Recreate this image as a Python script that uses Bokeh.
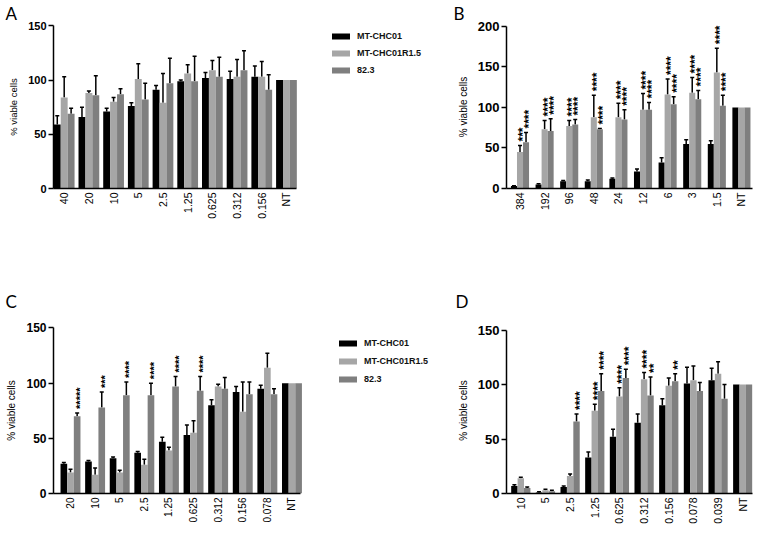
from math import pi
import numpy as np
from bokeh.plotting import figure
from bokeh.models import (Range1d, FixedTicker, ColumnDataSource, Whisker, TeeHead,
                          Title, Legend, LegendItem)
from bokeh.transform import dodge
from bokeh.layouts import column, row
from bokeh.embed import file_html
from bokeh.resources import INLINE
from bokeh.core.properties import value

SERIES = ["MT-CHC01", "MT-CHC01R1.5", "82.3"]
COLORS = ["#000000", "#a6a6a6", "#7f7f7f"]
FONT = "Liberation Sans"

# ---------------- Panel A ----------------
a_labels = ["40", "20", "10", "5", "2.5", "1.25", "0.625", "0.312", "0.156", "NT"]
a_chc01 = [59, 66, 71, 76, 91, 99, 102, 101, 103, 100]
a_chc01_err = [8, 9, 3, 3, 4, 1, 5, 7, 10, 0]
a_r15 = [84, 88, 80, 101, 79, 106, 109, 103, 103, 100]
a_r15_err = [19, 2, 4, 14, 27, 8, 9, 16, 14, 0]
a_823 = [69, 86, 87, 82, 97, 99, 103, 109, 91, 100]
a_823_err = [5, 18, 5, 15, 23, 23, 18, 18, 14, 0]
a_r15_sig = [""] * 10
a_823_sig = [""] * 10

# ---------------- Panel B ----------------
b_labels = ["384", "192", "96", "48", "24", "12", "6", "3", "1.5", "NT"]
b_chc01 = [3, 5, 9, 9, 12, 21, 32, 55, 55, 100]
b_chc01_err = [0.5, 1, 1, 1.5, 1, 3, 6, 5, 4, 0]
b_r15 = [45, 73, 77, 88, 88, 97, 116, 118, 143, 100]
b_r15_err = [8, 11, 7, 27, 17, 20, 19, 19, 30, 0]
b_823 = [57, 71, 79, 73, 85, 97, 104, 110, 102, 100]
b_823_err = [12, 15, 6, 1, 12, 9, 9, 11, 13, 0]
b_r15_sig = ["***", "****", "****", "****", "****", "****", "****", "****", "****", ""]
b_823_sig = ["****", "****", "****", "****", "****", "****", "****", "****", "****", ""]

# ---------------- Panel C ----------------
c_labels = ["20", "10", "5", "2.5", "1.25", "0.625", "0.312", "0.156", "0.078", "NT"]
c_chc01 = [27, 29, 32, 37, 47, 53, 80, 92, 95, 100]
c_chc01_err = [1, 1, 1, 1, 4, 9, 5, 5, 3, 0]
c_r15 = [19, 17, 19, 26, 39, 55, 97, 74, 114, 100]
c_r15_err = [3, 6, 2, 5, 3, 11, 2, 27, 13, 0]
c_823 = [70, 78, 89, 89, 97, 93, 95, 90, 90, 100]
c_823_err = [3, 14, 12, 11, 9, 13, 10, 11, 5, 0]
c_r15_sig = [""] * 10
c_823_sig = ["*****", "***", "****", "****", "****", "****", "", "", "", ""]

# ---------------- Panel D ----------------
d_labels = ["10", "5", "2.5", "1.25", "0.625", "0.312", "0.156", "0.078", "0.039", "NT"]
d_chc01 = [7, 1, 6, 33, 52, 65, 81, 101, 104, 100]
d_chc01_err = [1, 0.5, 1, 5, 7, 8, 6, 15, 11, 0]
d_r15 = [14, 3, 16, 76, 89, 105, 99, 104, 110, 100]
d_r15_err = [1, 1, 2, 6, 8, 6, 7, 13, 11, 0]
d_823 = [5, 2, 66, 94, 106, 90, 103, 94, 87, 100]
d_823_err = [1, 1, 7, 16, 8, 17, 7, 8, 13, 0]
d_r15_sig = ["", "", "", "****", "****", "****", "", "", "", ""]
d_823_sig = ["", "", "****", "****", "****", "**", "**", "", "", ""]


def make_panel(g, labels, series, sigs, ymax, letter, legend=None):
    W, H, fl, fr, ft, fb = g["W"], g["H"], g["fl"], g["fr"], g["ft"], g["fb"]
    bw = g["bw"]
    ttl = Title(text=letter, align="left", offset=g["loff"], standoff=g["lstand"],
                vertical_align=g["lva"], text_font="Lato", text_font_size="17px",
                text_font_style="normal", text_color="black")
    p = figure(width=W, height=H, x_range=Range1d(g["x0"], g["x1"]),
               y_range=Range1d(0, g["yend"]), output_backend="svg",
               toolbar_location=None, title=ttl,
               min_border_left=fl, min_border_right=W - fr,
               min_border_top=ft, min_border_bottom=H - fb)
    p.outline_line_color = None
    p.grid.grid_line_color = None
    p.background_fill_color = "white"
    p.border_fill_color = "white"

    n = len(labels)
    idx = list(range(n))
    offsets = [-bw, 0.0, bw]
    sfs = g["sfs"]
    rends = []
    for k, ((vals, errs), col) in enumerate(zip(series, COLORS)):
        off = offsets[k]
        src = ColumnDataSource(dict(x=idx, top=vals))
        p.vbar(x=dodge("x", off), top="top", bottom=0, width=bw, source=src,
               fill_color=col, line_color=None)
        keep = [i for i in idx if errs[i] > 0]
        wsrc = ColumnDataSource(dict(base=keep,
                                     lower=[vals[i] for i in keep],
                                     upper=[vals[i] + errs[i] for i in keep]))
        p.add_layout(Whisker(base=dodge("base", off), lower="lower", upper="upper",
                             source=wsrc, line_color="black", line_width=1.5,
                             lower_head=None,
                             upper_head=TeeHead(size=4, line_color="black", line_width=1.5)))
        if k > 0:
            sg = sigs[k - 1]
            ks = [i for i in idx if sg[i]]
            if ks:
                ssrc = ColumnDataSource(dict(x=ks, y=[vals[i] + errs[i] for i in ks],
                                             t=[sg[i] for i in ks]))
                p.text(x=dodge("x", off), y="y", text="t", source=ssrc, angle=pi / 2,
                       text_align="left", text_baseline="middle",
                       text_font=value(FONT), text_font_style="bold",
                       text_font_size=f"{sfs}px", y_offset=-4, x_offset=round(0.25 * sfs),
                       text_color="black")
        # legend swatch renderer (no visible mark)
        rends.append(p.line(x=np.array([np.nan]), y=np.array([np.nan]), line_width=6,
                            line_cap="round", line_color=col))

    p.yaxis.ticker = FixedTicker(ticks=list(range(0, ymax + 1, 50)))
    p.yaxis.bounds = (0, ymax)
    p.xaxis.bounds = (g["x0"], g["xb"])
    p.xaxis.ticker = FixedTicker(ticks=idx)
    p.xaxis.major_label_overrides = {i: l for i, l in enumerate(labels)}
    p.xaxis.major_label_orientation = pi / 2
    p.xaxis.major_tick_line_color = None
    p.xaxis.major_tick_out = 0
    p.xaxis.major_tick_in = 0
    p.xaxis.minor_tick_line_color = None
    p.xaxis.major_label_standoff = 4
    p.xaxis.major_label_text_font = FONT
    p.xaxis.major_label_text_font_size = g["xfs"]
    p.xaxis.major_label_text_color = "black"
    p.yaxis.major_tick_out = 5
    p.yaxis.major_tick_in = 0
    p.yaxis.major_tick_line_width = 1.5
    p.yaxis.major_tick_line_color = "black"
    p.yaxis.minor_tick_line_color = None
    p.yaxis.major_label_standoff = 2
    p.yaxis.major_label_text_font = FONT
    p.yaxis.major_label_text_font_style = "bold"
    p.yaxis.major_label_text_font_size = g["yfs"]
    p.yaxis.major_label_text_color = "black"
    p.axis.axis_line_width = 1.5
    p.axis.axis_line_color = "black"
    p.yaxis.axis_label = "% viable cells"
    p.yaxis.axis_label_text_font = FONT
    p.yaxis.axis_label_text_font_style = "normal"
    p.yaxis.axis_label_text_font_size = g["lfs"]
    p.yaxis.axis_label_text_color = "black"
    p.yaxis.axis_label_standoff = 6

    if legend is not None:
        gx, gtop, sp = legend          # glyph left, legend top (figure px), spacing
        height = 3 * 12 + 2 * sp
        leg = Legend(items=[LegendItem(label=s, renderers=[r]) for s, r in zip(SERIES, rends)],
                     location=(gx - fl, fb - (gtop + height)),
                     border_line_color=None, background_fill_alpha=0,
                     padding=0, margin=0, spacing=sp,
                     glyph_width=18, glyph_height=12, label_height=12,
                     label_standoff=7, label_text_font=FONT,
                     label_text_font_style="bold", label_text_font_size="9px",
                     label_text_color="#111111")
        p.add_layout(leg)
    return p


# geometry: col1 x 0..450, col2 x 450..756; row1 y 0..268, row2 y 268..532
# left-column frames extend right to hold the legend; axis bounds stop the x axis line.
gA = dict(W=450, H=268, fl=53, fr=446, ft=25, fb=188, x0=-0.433, x1=15.48, xb=9.405,
          yend=150.3, bw=0.28, xfs="10.5px", yfs="11px", lfs="9.5px",
          loff=-48, lstand=0, lva="top", sfs=10)
gB = dict(W=306, H=268, fl=56, fr=302, ft=25, fb=188, x0=-0.549, x1=9.45, xb=9.45,
          yend=201, bw=0.245, xfs="10.5px", yfs="13px", lfs="10px",
          loff=-53, lstand=0, lva="top", sfs=12)
gC = dict(W=450, H=264, fl=53, fr=446, ft=59, fb=225, x0=-0.691, x1=15.28, xb=9.35,
          yend=150.4, bw=0.27, xfs="10px", yfs="12px", lfs="10px",
          loff=-48, lstand=31, lva="bottom", sfs=11)
gD = dict(W=306, H=264, fl=56, fr=302, ft=59, fb=225, x0=-0.58, x1=9.396, xb=9.396,
          yend=152.4, bw=0.26, xfs="10.5px", yfs="13px", lfs="10px",
          loff=-51, lstand=31, lva="bottom", sfs=12)

pA = make_panel(gA, a_labels, [(a_chc01, a_chc01_err), (a_r15, a_r15_err), (a_823, a_823_err)],
                [a_r15_sig, a_823_sig], 150, "A", legend=(332, 29.5, 5))
pB = make_panel(gB, b_labels, [(b_chc01, b_chc01_err), (b_r15, b_r15_err), (b_823, b_823_err)],
                [b_r15_sig, b_823_sig], 200, "B")
pC = make_panel(gC, c_labels, [(c_chc01, c_chc01_err), (c_r15, c_r15_err), (c_823, c_823_err)],
                [c_r15_sig, c_823_sig], 150, "C", legend=(339, 337.3 - 268, 6))
pD = make_panel(gD, d_labels, [(d_chc01, d_chc01_err), (d_r15, d_r15_err), (d_823, d_823_err)],
                [d_r15_sig, d_823_sig], 150, "D")

layout = column(row(pA, pB), row(pC, pD))
open("out.html", "w").write(file_html(layout, INLINE))
